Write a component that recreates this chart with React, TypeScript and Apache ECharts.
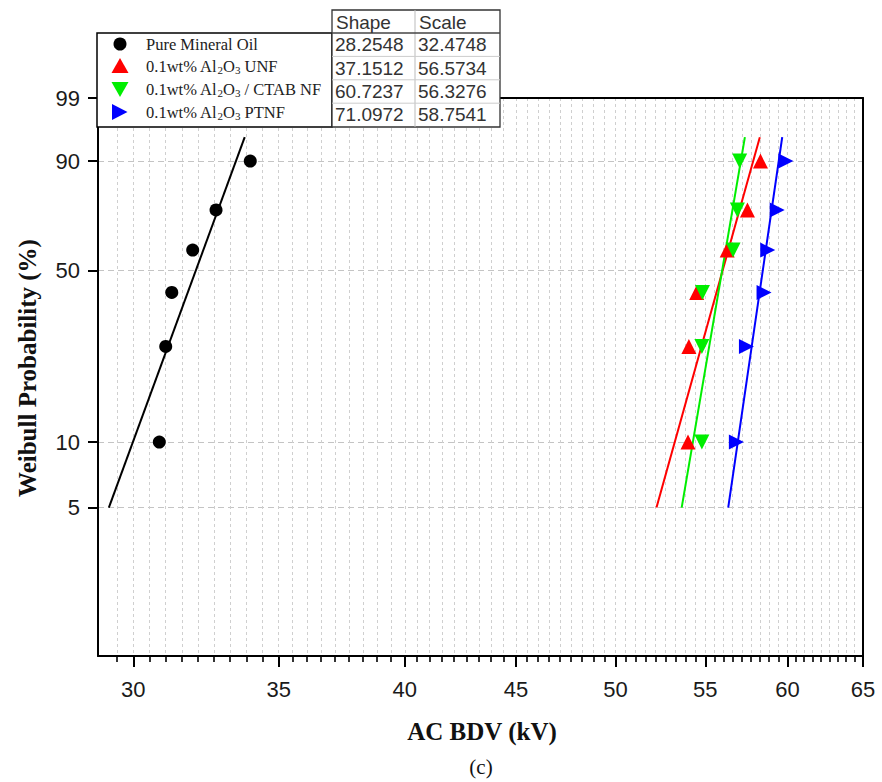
import React, { useEffect, useRef } from "react";
import * as echarts from "echarts";

// Cumulative failure probability (%) of each ranked breakdown
const probabilities = [10, 26, 42, 58, 74, 90];

// AC breakdown voltages (kV), sorted
const mineralOil = [30.84, 31.05, 31.25, 31.95, 32.75, 33.96];
const aluminaUnf = [54.0, 54.05, 54.5, 56.29, 57.51, 58.31];
const aluminaCtabNf = [54.8, 54.8, 54.83, 56.64, 56.9, 57.04];
const aluminaPtnf = [56.84, 57.45, 58.53, 58.76, 59.35, 59.9];

// Fitted Weibull parameters
const shapeParams = [28.2548, 37.1512, 60.7237, 71.0972];
const scaleParams = [32.4748, 56.5734, 56.3276, 58.7541];

// Axis ticks
const xTicks = [30, 35, 40, 45, 50, 55, 60, 65];
const yTicks = [5, 10, 50, 90, 99];
const xRange = [28.9, 65];
const yRange = [1, 99];
const fitRange = [5, 95];

const legendLabels = [
  "{n|Pure Mineral Oil}",
  "{n|0.1wt% Al}{s|2}{n|O}{s|3}{n| UNF}",
  "{n|0.1wt% Al}{s|2}{n|O}{s|3}{n| / CTAB NF}",
  "{n|0.1wt% Al}{s|2}{n|O}{s|3}{n| PTNF}",
];

const dataSets = [mineralOil, aluminaUnf, aluminaCtabNf, aluminaPtnf];

const markStyles = [
  { color: "#000000", symbol: "circle", rotate: 0, size: 13 },
  { color: "#ff0000", symbol: "triangle", rotate: 0, size: 15 },
  { color: "#00ee00", symbol: "triangle", rotate: 180, size: 15 },
  { color: "#0000ff", symbol: "triangle", rotate: -90, size: 15 },
];

const ln = Math.log;
// Weibull probability-paper transform
const wb = (p: number) => Math.log(-Math.log(1 - p / 100));

const majorX = xTicks.map(ln);
const gridX: number[] = [];
majorX.forEach((v, i) => {
  if (i === 0) gridX.push(v - (majorX[1] - majorX[0]) / 9);
  gridX.push(v);
  if (i < majorX.length - 1) {
    const d = (majorX[i + 1] - v) / 9;
    for (let k = 1; k < 9; k++) gridX.push(v + k * d);
  }
});
const majorY = yTicks.map(wb);

const xMin = ln(xRange[0]);
const xMax = ln(xRange[1]);
const yMin = wb(yRange[0]);
const yMax = wb(yRange[1]);

const serif = "'Liberation Serif', 'Times New Roman', serif";
const sans = "'Liberation Sans', Arial, sans-serif";

function buildOption(): echarts.EChartsOption {
  const series: any[] = [];
  dataSets.forEach((vals, i) => {
    const st = markStyles[i];
    const line = fitRange.map((p) => [ln(scaleParams[i]) + wb(p) / shapeParams[i], wb(p)]);
    series.push({
      type: "line",
      data: line,
      showSymbol: false,
      symbol: "none",
      lineStyle: { color: st.color, width: 2 },
      z: 3,
    });
    series.push({
      type: "scatter",
      data: vals.map((v, k) => [ln(v), wb(probabilities[k])]),
      symbol: st.symbol,
      symbolRotate: st.rotate,
      symbolSize: st.size,
      itemStyle: { color: st.color, opacity: 1, borderWidth: 0 },
      z: 4,
    });
  });

  const rowTop = 33;
  const rowH = 23.4;
  const legendRows = [44, 66, 89, 112];
  const tableFont = { fontSize: 19, fontFamily: sans, fill: "#333", verticalAlign: "middle" };
  const graphic: any[] = [
    {
      type: "rect",
      shape: { x: 97, y: 33, width: 235, height: 94 },
      style: { fill: "#fff", stroke: "#000", lineWidth: 1.5 },
      z: 100,
    },
    {
      type: "rect",
      shape: { x: 332, y: 10, width: 168, height: 117 },
      style: { fill: "#fff", stroke: "#333", lineWidth: 1.3 },
      z: 100,
    },
    {
      type: "line",
      shape: { x1: 415, y1: 10, x2: 415, y2: 127 },
      style: { stroke: "#bbb", lineWidth: 1 },
      z: 101,
    },
    {
      type: "line",
      shape: { x1: 332, y1: 33, x2: 500, y2: 33 },
      style: { stroke: "#444", lineWidth: 1.3 },
      z: 101,
    },
    { type: "circle", shape: { cx: 120, cy: legendRows[0], r: 6.5 }, style: { fill: "#000" }, z: 102 },
    {
      type: "polygon",
      shape: { points: [[120, legendRows[1] - 8], [128.5, legendRows[1] + 7], [111.5, legendRows[1] + 7]] },
      style: { fill: markStyles[1].color },
      z: 102,
    },
    {
      type: "polygon",
      shape: { points: [[111.5, legendRows[2] - 7], [128.5, legendRows[2] - 7], [120, legendRows[2] + 8]] },
      style: { fill: markStyles[2].color },
      z: 102,
    },
    {
      type: "polygon",
      shape: { points: [[112, legendRows[3] - 8], [127.5, legendRows[3]], [112, legendRows[3] + 8]] },
      style: { fill: markStyles[3].color },
      z: 102,
    },
    { type: "text", style: { text: "Shape", x: 336, y: 22, ...tableFont }, z: 102 },
    { type: "text", style: { text: "Scale", x: 419, y: 22, ...tableFont }, z: 102 },
    {
      type: "text",
      rotation: Math.PI / 2,
      x: 27,
      y: 368,
      style: {
        text: "Weibull Probability (%)",
        fontSize: 25,
        fontWeight: "bold",
        fontFamily: serif,
        fill: "#111",
        align: "center",
        verticalAlign: "middle",
      },
      z: 102,
    },
    {
      type: "text",
      style: {
        text: "AC BDV (kV)",
        x: 482,
        y: 731,
        fontSize: 25,
        fontWeight: "bold",
        fontFamily: serif,
        fill: "#111",
        align: "center",
        verticalAlign: "middle",
      },
      z: 102,
    },
    {
      type: "text",
      style: {
        text: "(c)",
        x: 481,
        y: 767,
        fontSize: 21,
        fontFamily: serif,
        fill: "#111",
        align: "center",
        verticalAlign: "middle",
      },
      z: 102,
    },
  ];

  for (let r = 1; r < 4; r++) {
    const y = rowTop + r * rowH;
    graphic.push({
      type: "line",
      shape: { x1: 332, y1: y, x2: 500, y2: y },
      style: { stroke: "#ccc", lineWidth: 1 },
      z: 101,
    });
  }
  shapeParams.forEach((s, i) => {
    const y = rowTop + rowH * i + rowH / 2;
    graphic.push({ type: "text", style: { text: s.toFixed(4), x: 335, y, ...tableFont }, z: 102 });
    graphic.push({ type: "text", style: { text: scaleParams[i].toFixed(4), x: 418, y, ...tableFont }, z: 102 });
  });
  legendLabels.forEach((label, i) => {
    graphic.push({
      type: "text",
      style: {
        text: label,
        x: 146,
        y: legendRows[i],
        fill: "#222",
        verticalAlign: "middle",
        rich: {
          n: { fontSize: 16.5, fontFamily: serif, lineHeight: 19, fill: "#222" },
          s: { fontSize: 11, fontFamily: serif, lineHeight: 11, verticalAlign: "bottom", fill: "#222" },
        },
      },
      z: 102,
    });
  });

  const blackLine = { color: "#000", width: 2 };

  return {
    animation: false,
    backgroundColor: "#fff",
    grid: { left: 98, right: 19, top: 98, bottom: 126, show: false },
    xAxis: [
      {
        type: "value",
        min: xMin,
        max: xMax,
        position: "bottom",
        z: 10,
        axisLine: { show: true, onZero: false, lineStyle: blackLine },
        axisTick: { show: true, customValues: majorX, length: 11, inside: false, lineStyle: blackLine },
        axisLabel: {
          customValues: majorX,
          formatter: (v: number) => String(Math.round(Math.exp(v))),
          fontSize: 22,
          fontFamily: sans,
          color: "#1a1a1a",
          margin: 22,
        },
        splitLine: { show: false },
      },
      {
        type: "value",
        min: xMin,
        max: xMax,
        position: "bottom",
        z: 1,
        axisLine: { show: false, onZero: false },
        axisTick: { show: true, customValues: gridX, length: 6, lineStyle: { color: "#000", width: 1.6 } },
        axisLabel: { show: false },
        splitLine: { show: true, lineStyle: { color: "#cfcfcf", width: 1, type: [3, 3] } },
      },
      {
        type: "value",
        min: xMin,
        max: xMax,
        position: "top",
        z: 10,
        axisLine: { show: true, onZero: false, lineStyle: blackLine },
        axisTick: { show: false },
        axisLabel: { show: false },
        splitLine: { show: false },
      },
    ],
    yAxis: [
      {
        type: "value",
        min: yMin,
        max: yMax,
        position: "left",
        z: 1,
        axisLine: { show: true, onZero: false, lineStyle: blackLine },
        axisTick: { show: true, customValues: majorY, length: 10, lineStyle: blackLine },
        axisLabel: {
          customValues: majorY,
          formatter: (v: number) => {
            let best = yTicks[0];
            yTicks.forEach((t) => {
              if (Math.abs(wb(t) - v) < Math.abs(wb(best) - v)) best = t;
            });
            return String(best);
          },
          fontSize: 22,
          fontFamily: sans,
          color: "#1a1a1a",
          margin: 18,
        },
        splitLine: { show: true, lineStyle: { color: "#c4c4c4", width: 1, type: [6, 4] } },
      },
      {
        type: "value",
        min: yMin,
        max: yMax,
        position: "right",
        z: 10,
        axisLine: { show: true, onZero: false, lineStyle: blackLine },
        axisTick: { show: false },
        axisLabel: { show: false },
        splitLine: { show: false },
      },
    ],
    series,
    graphic,
  } as echarts.EChartsOption;
}

export default function App() {
  const ref = useRef<HTMLDivElement>(null);
  useEffect(() => {
    if (!ref.current) return;
    const chart = echarts.init(ref.current, null, { renderer: "svg" });
    chart.setOption(buildOption());
    return () => chart.dispose();
  }, []);
  return (
    <div
      ref={ref}
      style={{ position: "fixed", left: 0, top: 0, width: 882, height: 782, background: "#fff" }}
    />
  );
}
